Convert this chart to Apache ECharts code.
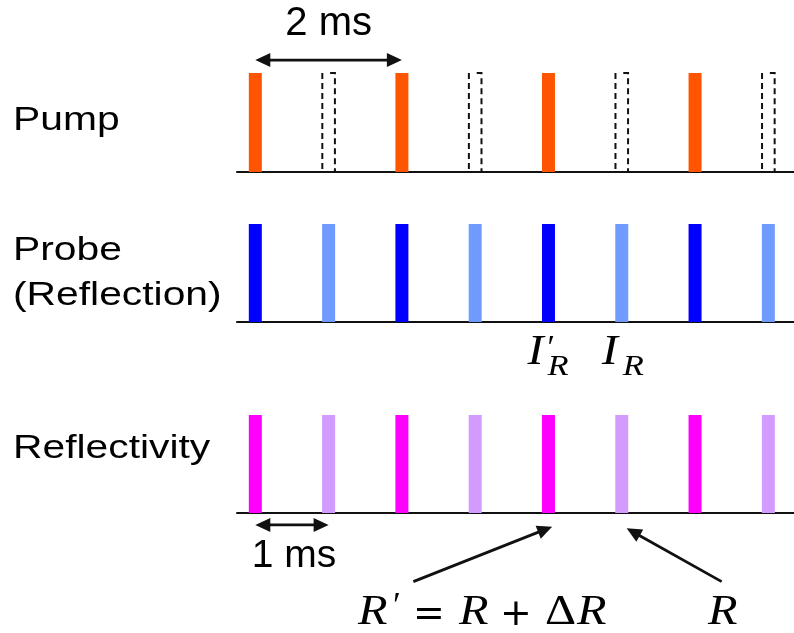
<!DOCTYPE html>
<html>
<head>
<meta charset="utf-8">
<script src="https://cdn.jsdelivr.net/npm/echarts@6/dist/echarts.min.js"></script>
<style>
  html, body { margin: 0; padding: 0; background: #ffffff; }
  #chart { width: 794px; height: 633px; }
</style>
</head>
<body>
<div id="chart"></div>
<script>
// Pulse train timing (ms) and per-pulse state
const pulseTimes = [0, 1, 2, 3, 4, 5, 6, 7];
const pumpPassed = [1, 0, 1, 0, 1, 0, 1, 0];   // 1 = pump pulse passes the chopper, 0 = blocked
const pulseAmplitude = [1, 1, 1, 1, 1, 1, 1, 1];
const rowLabels = ['Pump', 'Probe', '(Reflection)', 'Reflectivity'];
const timeMin = -0.25;
const timeMax = 7.35;

const C = {
  pump: '#ff5500',
  probeOn: '#0000ff',
  probeOff: '#6f9bff',
  reflOn: '#ff00ff',
  reflOff: '#d49bff',
  ink: '#111111'
};

const rows = [
  { top: 73, height: 99 },
  { top: 224, height: 98 },
  { top: 415, height: 98 }
];

function pick(flag) {
  const out = [];
  pulseTimes.forEach((t, i) => { if (pumpPassed[i] === flag) out.push([t, pulseAmplitude[i]]); });
  return out;
}

function bar(name, gi, data, itemStyle) {
  return {
    name, type: 'bar', xAxisIndex: gi, yAxisIndex: gi, data,
    barWidth: 13, barGap: '-100%', itemStyle, silent: true, z: 3
  };
}

// blocked pump pulse: dashed outline of where the pulse would be
function blockedOutline(params, api) {
  const top = api.coord([api.value(0), api.value(1)]);
  const base = api.coord([api.value(0), 0]);
  const half = 6.3;
  const style = { stroke: C.ink, lineWidth: 2, lineDash: [6, 4], fill: null };
  return {
    type: 'group',
    children: [
      { type: 'line', shape: { x1: top[0] - half, y1: top[1], x2: base[0] - half, y2: base[1] }, style },
      { type: 'polyline', shape: { points: [[top[0] + 1.5, top[1]], [top[0] + half, top[1]], [base[0] + half, base[1]]] }, style }
    ]
  };
}

const chart = echarts.init(document.getElementById('chart'), null, { renderer: 'canvas' });

chart.setOption({
  animation: false,
  backgroundColor: '#ffffff',
  grid: rows.map(r => ({ left: 237, right: 0, top: r.top, height: r.height, containLabel: false, outerBoundsMode: 'none' })),
  xAxis: rows.map((r, i) => ({
    type: 'value', gridIndex: i, min: timeMin, max: timeMax,
    axisLine: { show: true, onZero: false, lineStyle: { color: '#111111', width: 2 } },
    axisTick: { show: false }, axisLabel: { show: false }, splitLine: { show: false }
  })),
  yAxis: rows.map((r, i) => ({ type: 'value', gridIndex: i, min: 0, max: 1, show: false, splitLine: { show: false } })),
  series: [
    bar('Pump', 0, pick(1), { color: C.pump }),
    {
      name: 'Pump blocked', type: 'custom', xAxisIndex: 0, yAxisIndex: 0,
      data: pick(0), renderItem: blockedOutline, silent: true, z: 2
    },
    bar('Probe (pumped)', 1, pick(1), { color: C.probeOn }),
    bar('Probe (unpumped)', 1, pick(0), { color: C.probeOff }),
    bar("R'", 2, pick(1), { color: C.reflOn }),
    bar('R', 2, pick(0), { color: C.reflOff })
  ]
});

// ---- annotations, placed from the axes' own scales ----
function px(gi, t, v) {
  return chart.convertToPixel({ gridIndex: gi }, [t, v]);
}

function arrowHead(tip, from, len, half) {
  const dx = tip[0] - from[0], dy = tip[1] - from[1];
  const d = Math.hypot(dx, dy), ux = dx / d, uy = dy / d;
  const bx = tip[0] - ux * len, by = tip[1] - uy * len;
  return {
    type: 'polygon', silent: true, z: 10,
    shape: { points: [[tip[0], tip[1]], [bx - uy * half, by + ux * half], [bx + uy * half, by - ux * half]] },
    style: { fill: C.ink }
  };
}

function shorten(p, q, amt) {
  const dx = q[0] - p[0], dy = q[1] - p[1], d = Math.hypot(dx, dy);
  return [q[0] - dx / d * amt, q[1] - dy / d * amt];
}

function arrow(a, b, both) {
  const len = 15, half = 7;
  const start = both ? shorten(b, a, len * 0.8) : a;
  const end = shorten(a, b, len * 0.8);
  const els = [{
    type: 'line', silent: true, z: 10,
    shape: { x1: start[0], y1: start[1], x2: end[0], y2: end[1] },
    style: { stroke: C.ink, lineWidth: 2.8 }
  }, arrowHead(b, a, len, half)];
  if (both) els.push(arrowHead(a, b, len, half));
  return els;
}

function txt(text, x, y, font, opts) {
  return Object.assign({
    type: 'text', x, y, silent: true, z: 10,
    style: Object.assign({ text, font, fill: '#000000', align: 'left', verticalAlign: 'middle' }, (opts && opts.style) || {})
  }, (opts && opts.el) || {});
}

const sans = '"Liberation Sans", Arial, sans-serif';
const serifI = 'italic 42px "Liberation Serif", "DejaVu Serif", serif';
const wide = { el: { scaleX: 1.15 } };
const g = [];

// row titles
g.push(txt(rowLabels[0], 13, 121, '34px ' + sans, { el: { scaleX: 1.2 } }));
g.push(txt(rowLabels[1], 13, 251, '34px ' + sans, { el: { scaleX: 1.2 } }));
g.push(txt(rowLabels[2], 13, 296, '34px ' + sans, { el: { scaleX: 1.2 } }));
g.push(txt(rowLabels[3], 13, 449, '34px ' + sans, { el: { scaleX: 1.2 } }));

// period markers
const a2a = px(0, 0, 1.131), a2b = px(0, 2, 1.131);
g.push(...arrow(a2a, a2b, true));
g.push(txt('2 ms', (a2a[0] + a2b[0]) / 2, 24, '40px ' + sans, { style: { align: 'center' } }));

const a1a = px(2, 0, -0.122), a1b = px(2, 1, -0.122);
g.push(...arrow(a1a, a1b, true));
g.push(txt('1 ms', (a1a[0] + a1b[0]) / 2 + 2, 556, '39px ' + sans, { style: { align: 'center' } }));

// probe intensity labels
const b4 = px(1, 4, 0), b5 = px(1, 5, 0);
g.push(txt('I', b4[0] - 21, 353, serifI, wide));
g.push(txt('′', b4[0] - 1, 349, '34px "Liberation Serif", serif'));
g.push(txt('R', b4[0] - 1, 367, 'italic 30px "Liberation Serif", serif', wide));
g.push(txt('I', b5[0] - 20, 353, serifI, wide));
g.push(txt('R', b5[0] + 1, 367, 'italic 30px "Liberation Serif", serif', wide));

// reflectivity arrows
g.push(...arrow(px(2, 2.156, -0.70), px(2, 4.05, -0.14), false));
g.push(...arrow(px(2, 6.363, -0.70), px(2, 5.067, -0.156), false));

// R' = R + ΔR and R
const my = 613;
g.push(txt('R', 358, my, serifI, wide));
g.push(txt('′', 393, my - 5, '36px "Liberation Serif", serif'));
g.push(txt('=', 413, my + 2, '38px "DejaVu Sans", sans-serif'));
g.push(txt('R', 459, my, serifI, wide));
g.push(txt('+', 500, my + 2, '38px "DejaVu Sans", sans-serif'));
g.push(txt('Δ', 545, my, '42px "Liberation Serif", serif', { el: { scaleX: 1.15 } }));
g.push(txt('R', 577, my, serifI, wide));
g.push(txt('R', 708, my, serifI, wide));

chart.setOption({ graphic: g });
</script>
</body>
</html>
